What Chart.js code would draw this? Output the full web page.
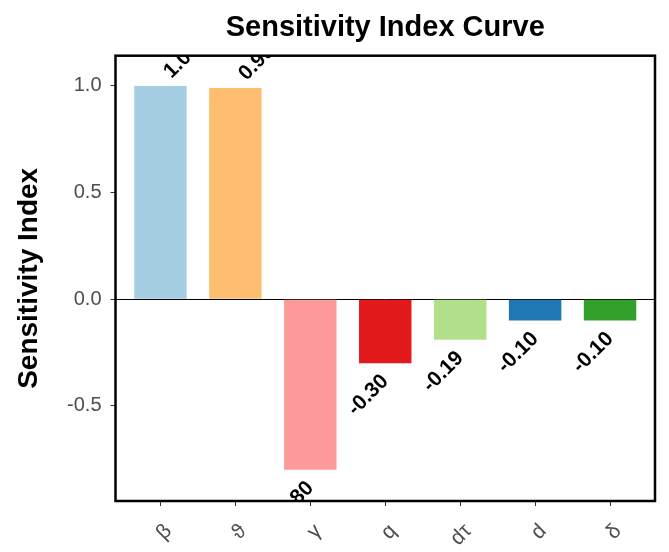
<!DOCTYPE html>
<html>
<head>
<meta charset="utf-8">
<script src="https://cdn.jsdelivr.net/npm/chart.js@4.4.1/dist/chart.umd.min.js"></script>
<style>
  html, body { margin: 0; padding: 0; background: #fff; }
  #wrap { width: 669px; height: 552px; }
</style>
</head>
<body>
<div id="wrap"><canvas id="myChart"></canvas></div>
<script>
// parameters and their sensitivity indices
const params = ['β', 'ϑ', 'γ', 'q', 'dτ', 'd', 'δ'];
const sensitivity = [1.00, 0.99, -0.80, -0.30, -0.19, -0.10, -0.10];
const barColors = ['#A6CEE3', '#FDBF6F', '#FB9A99', '#E31A1C', '#B2DF8A', '#1F78B4', '#33A02C'];
const yTicks = [-0.5, 0.0, 0.5, 1.0];

const FONT = "'Liberation Sans', Arial, sans-serif";

// black frame around the panel
const panelBorder = {
    id: 'panelBorder',
    afterDraw(chart) {
        const { ctx, chartArea: a } = chart;
        ctx.save();
        ctx.strokeStyle = '#000';
        ctx.lineWidth = 2.5;
        ctx.strokeRect(a.left, a.top, a.right - a.left, a.bottom - a.top);
        ctx.restore();
    }
};

// rotated value labels, clipped to the panel like in ggplot
const valueLabels = {
    id: 'valueLabels',
    afterDatasetsDraw(chart) {
        const { ctx, chartArea: a } = chart;
        const meta = chart.getDatasetMeta(0);
        ctx.save();
        ctx.beginPath();
        ctx.rect(a.left, a.top, a.right - a.left, a.bottom - a.top);
        ctx.clip();
        ctx.font = 'bold 21px ' + FONT;
        ctx.fillStyle = '#000';
        ctx.textBaseline = 'middle';
        meta.data.forEach((bar, i) => {
            const v = sensitivity[i];
            ctx.save();
            if (v >= 0) {
                ctx.translate(bar.x + 7, bar.y - 11);
                ctx.textAlign = 'left';
            } else {
                ctx.translate(bar.x + 0, bar.y + 15);
                ctx.textAlign = 'right';
            }
            ctx.rotate(-Math.PI / 4);
            ctx.fillText(v.toFixed(2), 0, 0);
            ctx.restore();
        });
        ctx.restore();
    }
};

const ctx = document.getElementById('myChart').getContext('2d');
const myChart = new Chart(ctx, {
    type: 'bar',
    data: {
        datasets: [{
            data: sensitivity.map((v, i) => ({ x: i + 1, y: v })),
            backgroundColor: barColors,
            borderWidth: 0,
            categoryPercentage: 0.7,
            barPercentage: 1.0
        }]
    },
    options: {
        responsive: true,
        maintainAspectRatio: false,
        animation: false,
        layout: { padding: { left: 0, right: 14, top: 0, bottom: 0 } },
        plugins: {
            legend: { display: false },
            tooltip: { enabled: false },
            title: {
                display: true,
                text: 'Sensitivity Index Curve',
                fullSize: false,
                color: '#000',
                font: { family: FONT, size: 29, weight: 'bold' },
                padding: { top: 10.5, bottom: 10.4 }
            }
        },
        scales: {
            x: {
                type: 'linear',
                min: 0.4,
                max: 7.6,
                offset: false,
                afterBuildTicks: s => { s.ticks = params.map((p, i) => ({ value: i + 1 })); },
                afterFit: s => { s.height = 51; },
                grid: { offset: false, drawOnChartArea: false, tickLength: 5, tickColor: '#333', tickWidth: 1 },
                border: { display: false },
                ticks: {
                    autoSkip: false,
                    minRotation: 45,
                    maxRotation: 45,
                    labelOffset: 8,
                    padding: 13,
                    color: '#4D4D4D',
                    font: { family: FONT, size: 21 },
                    callback: v => params[v - 1]
                }
            },
            y: {
                min: -0.946,
                max: 1.142,
                afterBuildTicks: s => { s.ticks = yTicks.map(v => ({ value: v })); },
                afterFit: s => { s.width = 115.5; },
                grid: {
                    drawOnChartArea: true,
                    color: c => (c.tick && c.tick.value === 0 ? '#000' : 'rgba(0,0,0,0)'),
                    lineWidth: 1,
                    tickLength: 5,
                    tickColor: '#333',
                    tickWidth: 1
                },
                border: { display: false },
                ticks: {
                    padding: 9,
                    color: '#4D4D4D',
                    font: { family: FONT, size: 20 },
                    callback: v => v.toFixed(1)
                },
                title: {
                    display: true,
                    text: 'Sensitivity Index',
                    color: '#000',
                    font: { family: FONT, size: 28, weight: 'bold' },
                    padding: { top: 12, bottom: 0 }
                }
            }
        }
    },
    plugins: [panelBorder, valueLabels]
});
</script>
</body>
</html>
